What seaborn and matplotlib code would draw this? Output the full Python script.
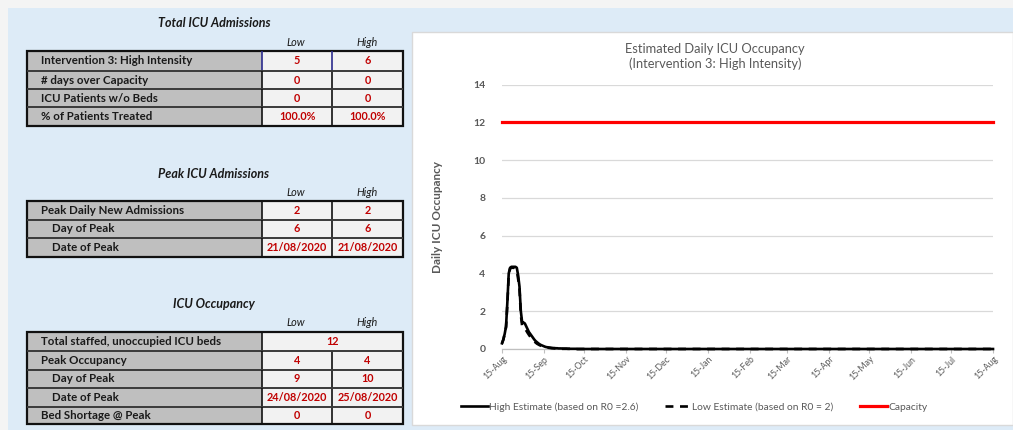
import numpy as np
import pandas as pd
import matplotlib
matplotlib.use("Agg")
import matplotlib.pyplot as plt
import matplotlib.dates as mdates
from matplotlib.patches import Rectangle
import seaborn as sns

# ---------------- data ----------------
start_date = "2020-08-15"
end_date = "2021-08-15"

# day offsets from the start date, daily values for the first two months
day_offsets = list(range(61)) + [365]

high_estimate = [0.30, 0.50, 0.80, 1.20, 2.50, 4.00, 4.30, 4.35, 4.35, 4.35,
                 4.35, 4.30, 3.90, 3.30, 2.00, 1.40, 1.40, 1.35, 1.20, 1.05,
                 0.90, 0.80, 0.70, 0.60, 0.50, 0.42, 0.36, 0.30, 0.25, 0.21,
                 0.18, 0.15, 0.12, 0.10, 0.09, 0.08, 0.07, 0.06, 0.05, 0.05,
                 0.04, 0.04, 0.03, 0.03, 0.03, 0.02, 0.02, 0.02, 0.02, 0.01,
                 0.01, 0.01, 0.01, 0.01, 0.01, 0.01, 0.00, 0.00, 0.00, 0.00, 0.00,
                 0.00]

low_estimate = [0.30, 0.50, 0.80, 1.15, 2.40, 3.90, 4.25, 4.30, 4.30, 4.30,
                4.25, 4.15, 3.70, 3.20, 1.80, 1.20, 1.15, 1.10, 0.98, 0.86,
                0.75, 0.65, 0.56, 0.48, 0.40, 0.34, 0.28, 0.24, 0.20, 0.17,
                0.14, 0.12, 0.10, 0.08, 0.07, 0.06, 0.05, 0.04, 0.04, 0.03,
                0.03, 0.02, 0.02, 0.02, 0.01, 0.01, 0.01, 0.01, 0.01, 0.01,
                0.01, 0.00, 0.00, 0.00, 0.00, 0.00, 0.00, 0.00, 0.00, 0.00, 0.00,
                0.00]

icu_capacity = 12

series_labels = ["High Estimate (based on R0 =2.6)",
                 "Low Estimate (based on R0 = 2)",
                 "Capacity"]

chart_title = "Estimated Daily ICU Occupancy\n(Intervention 3: High Intensity)"
y_label = "Daily ICU Occupancy"
y_ticks = [0, 2, 4, 6, 8, 10, 12, 14]

# summary tables
total_title = "Total ICU Admissions"
total_rows = ["Intervention 3: High Intensity", "# days over Capacity",
              "ICU Patients w/o Beds", "% of Patients Treated"]
total_low = ["5", "0", "0", "100.0%"]
total_high = ["6", "0", "0", "100.0%"]

peak_title = "Peak ICU Admissions"
peak_rows = ["Peak Daily New Admissions", "Day of Peak", "Date of Peak"]
peak_low = ["2", "6", "21/08/2020"]
peak_high = ["2", "6", "21/08/2020"]

occ_title = "ICU Occupancy"
occ_rows = ["Total staffed, unoccupied ICU beds", "Peak Occupancy",
            "Day of Peak", "Date of Peak", "Bed Shortage @ Peak"]
occ_low = ["12", "4", "9", "24/08/2020", "0"]
occ_high = [None, "4", "10", "25/08/2020", "0"]

col_headers = ["Low", "High"]

# ---------------- figure ----------------
W, H = 1013, 430
FONT = ["Lato", "DejaVu Sans"]
plt.rcParams["font.family"] = FONT

fig = plt.figure(figsize=(W / 100, H / 100), dpi=100)

# background layer in pixel coordinates
bg = fig.add_axes([0, 0, 1, 1], zorder=0)
bg.set_xlim(0, W)
bg.set_ylim(H, 0)
bg.axis("off")
bg.add_patch(Rectangle((0, 0), W, H, facecolor="#F4F4F4", edgecolor="none"))
bg.add_patch(Rectangle((8, 8), W - 8, H - 8, facecolor="#DDEBF7", edgecolor="none"))
bg.add_patch(Rectangle((411.5, 32), W - 411.5, 393, facecolor="white",
                       edgecolor="#D9D9D9", linewidth=1))

X0, XL, XH, X1 = 27, 262, 332, 403
TEXT_DARK = "#1A1A1A"
RED = "#C00000"


def draw_table(title, title_y, header_y, row_edges, labels, lows, highs,
               indented=(), blue_first=False):
    bg.text(214, title_y, title, ha="center", va="center",
            fontsize=9.0, fontweight="bold", fontstyle="italic", color=TEXT_DARK)
    bg.text((XL + XH) / 2 - 1, header_y, col_headers[0], ha="center", va="center",
            fontsize=7.8, fontstyle="italic", color=TEXT_DARK)
    bg.text((XH + X1) / 2, header_y, col_headers[1], ha="center", va="center",
            fontsize=7.8, fontstyle="italic", color=TEXT_DARK)
    top, bottom = row_edges[0], row_edges[-1]
    bg.add_patch(Rectangle((X0, top), XL - X0, bottom - top,
                           facecolor="#BFBFBF", edgecolor="none"))
    bg.add_patch(Rectangle((XL, top), X1 - XL, bottom - top,
                           facecolor="#F2F2F2", edgecolor="none"))
    for i, lab in enumerate(labels):
        y0, y1 = row_edges[i], row_edges[i + 1]
        yc = (y0 + y1) / 2
        xt = 52 if i in indented else 41
        bg.text(xt, yc, lab, ha="left", va="center", fontsize=8.3,
                fontweight="bold", color=TEXT_DARK)
        if highs[i] is None:
            bg.text((XL + X1) / 2, yc, lows[i], ha="center", va="center",
                    fontsize=7.8, fontweight="bold", color=RED)
        else:
            bg.text((XL + XH) / 2, yc, lows[i], ha="center", va="center",
                    fontsize=7.8, fontweight="bold", color=RED)
            bg.text((XH + X1) / 2, yc, highs[i], ha="center", va="center",
                    fontsize=7.8, fontweight="bold", color=RED)
            col = "#2B2B8C" if (blue_first and i == 0) else "#111111"
            bg.plot([XH, XH], [y0, y1], color=col, lw=1.2, solid_capstyle="butt")
        if i > 0:
            bg.plot([X0, X1], [y0, y0], color="#3A3A3A", lw=1.4, solid_capstyle="butt")
        if blue_first and i == 0:
            bg.plot([XL, XL], [y0, y1], color="#2B2B8C", lw=1.2, solid_capstyle="butt")
        else:
            bg.plot([XL, XL], [y0, y1], color="#111111", lw=1.2, solid_capstyle="butt")
    bg.add_patch(Rectangle((X0, top), X1 - X0, bottom - top, facecolor="none",
                           edgecolor="#111111", linewidth=1.6))


draw_table(total_title, 23, 42, [51, 71, 89, 107, 126],
           total_rows, total_low, total_high, blue_first=True)
draw_table(peak_title, 174, 192, [201, 219.5, 238, 257],
           peak_rows, peak_low, peak_high, indented=(1, 2))
draw_table(occ_title, 304, 323, [332, 351, 369.5, 388, 406.5, 424],
           occ_rows, occ_low, occ_high, indented=(2, 3))

# ---------------- chart ----------------
dates = pd.Timestamp(start_date) + pd.to_timedelta(day_offsets, unit="D")
df_high = pd.DataFrame({"date": dates, "occupancy": high_estimate})
df_low = pd.DataFrame({"date": dates, "occupancy": low_estimate})
df_cap = pd.DataFrame({"date": pd.to_datetime([start_date, end_date]),
                       "occupancy": [icu_capacity, icu_capacity]})

left, right, y_bot, y_top = 502, 993, 349, 84.5
ax = fig.add_axes([left / W, 1 - y_bot / H, (right - left) / W, (y_bot - y_top) / H],
                  zorder=2)
ax.set_facecolor("none")

sns.lineplot(data=df_cap, x="date", y="occupancy", ax=ax, color="#FF0000",
             linewidth=2.3, label=series_labels[2], zorder=3)
sns.lineplot(data=df_low, x="date", y="occupancy", ax=ax, color="black",
             linewidth=1.9, linestyle=(0, (3, 2.5)), label=series_labels[1],
             zorder=4)
sns.lineplot(data=df_high, x="date", y="occupancy", ax=ax, color="black",
             linewidth=1.9, label=series_labels[0], zorder=5)
for ln in ax.get_lines():
    ln.set_clip_on(False)

ax.set_xlim(pd.Timestamp(start_date), pd.Timestamp(end_date))
ax.set_ylim(0, 14)
ax.set_yticks(y_ticks)
ax.yaxis.grid(True, color="#D9D9D9", linewidth=0.9)
ax.set_axisbelow(True)
for side in ["top", "right", "left"]:
    ax.spines[side].set_visible(False)
ax.spines["bottom"].set_color("#BFBFBF")
ax.spines["bottom"].set_linewidth(0.9)

ax.xaxis.set_major_locator(mdates.MonthLocator(bymonthday=15))
ax.xaxis.set_major_formatter(mdates.DateFormatter("%d-%b"))
ax.tick_params(axis="x", length=3, color="#BFBFBF", labelsize=6.3,
               labelcolor="#595959", pad=1)
ax.tick_params(axis="y", length=0, labelsize=7.5, labelcolor="#595959", pad=12)
for t in ax.get_yticklabels():
    t.set_fontweight("bold")
plt.setp(ax.get_xticklabels(), rotation=45, ha="right", rotation_mode="anchor")

ax.set_xlabel("")
ax.set_ylabel(y_label, fontsize=8.5, fontweight="bold", color="#595959", labelpad=22)
ax.set_title(chart_title, fontsize=9.3, color="#595959", pad=12,
             x=(715 - left) / (right - left), linespacing=1.25)

handles, labels = ax.get_legend_handles_labels()
order = [labels.index(s) for s in series_labels]
ax.legend([handles[i] for i in order], [labels[i] for i in order],
          loc="center", bbox_to_anchor=((694 - left) / (right - left), (y_bot - 407) / (y_bot - y_top)),
          ncol=3, frameon=False, fontsize=7.4, labelcolor="#595959",
          handlelength=2.6, handletextpad=0.1, columnspacing=2.6)

fig.savefig("out.png", dpi=100)
